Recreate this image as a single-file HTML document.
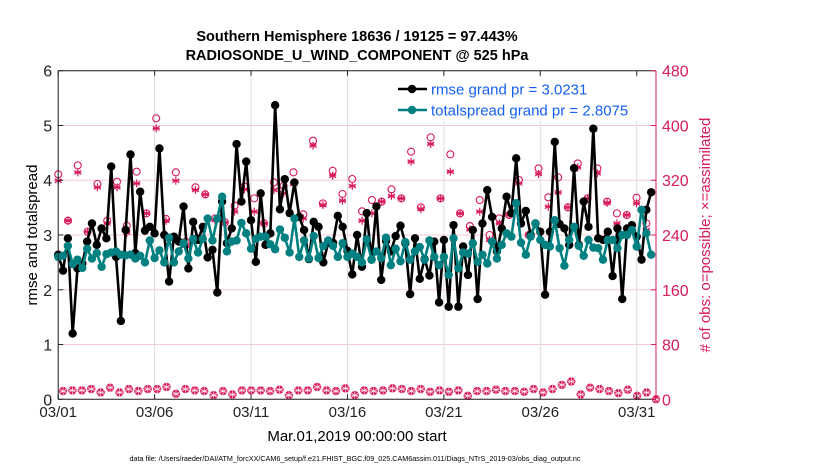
<!DOCTYPE html>
<html><head><meta charset="utf-8"><style>
body{margin:0;background:#fff;width:830px;height:470px;overflow:hidden}
svg{font-family:"Liberation Sans",Arial,sans-serif}
</style></head><body>
<svg id="chart" width="830" height="470" viewBox="0 0 830 470" xmlns="http://www.w3.org/2000/svg">
<g id="grid"></g>
<g id="plot"></g>
<g id="axes"></g>
<text x="357" y="41" text-anchor="middle" font-size="14.5" font-weight="bold">Southern Hemisphere 18636 / 19125 = 97.443%</text>
<text x="357" y="60" text-anchor="middle" font-size="14.5" font-weight="bold">RADIOSONDE_U_WIND_COMPONENT @ 525 hPa</text>
<text transform="translate(37,235) rotate(-90)" text-anchor="middle" font-size="15">rmse and totalspread</text>
<text transform="translate(710,235) rotate(-90)" text-anchor="middle" font-size="15" fill="#d81b5b"># of obs: o=possible; ×=assimilated</text>
<text x="357" y="441" text-anchor="middle" font-size="15">Mar.01,2019 00:00:00 start</text>
<text x="355" y="461" text-anchor="middle" font-size="7.2">data file: /Users/raeder/DAI/ATM_forcXX/CAM6_setup/f.e21.FHIST_BGC.f09_025.CAM6assim.011/Diags_NTrS_2019-03/obs_diag_output.nc</text>
</svg>
<script>
const rmse=[2.64,2.35,2.94,1.2,2.39,2.48,2.88,3.21,2.82,3.12,2.94,4.25,2.6,1.43,3.09,4.47,2.67,3.79,3.08,3.15,3.03,4.58,3.0,2.15,2.97,2.88,3.52,2.39,3.24,2.91,3.15,2.59,2.73,1.95,3.61,2.85,3.12,4.66,3.61,4.34,3.27,2.51,3.76,
2.82,3.03,5.37,3.47,4.02,3.4,3.96,3.33,3.09,2.56,3.24,3.15,2.5,2.86,2.86,3.35,3.15,2.71,2.28,3.0,2.42,3.4,2.55,3.52,2.18,2.89,2.7,2.98,3.17,2.85,1.92,2.94,2.2,2.56,2.26,2.88,1.77,
2.91,1.69,3.18,1.69,2.79,2.27,3.09,1.83,3.21,3.82,3.33,2.7,3.12,3.7,3.4,4.4,3.21,3.44,3.0,3.21,3.06,1.91,3.06,4.7,3.2,3.12,2.82,4.22,2.82,3.61,3.15,4.94,2.94,2.91,3.06,2.25,3.12,1.83,3.12,3.18,2.97,2.55,3.46,3.78];
const spread=[2.6,2.62,2.8,2.47,2.55,2.4,2.75,2.57,2.67,2.42,2.65,2.68,2.7,2.64,2.63,2.64,2.57,2.62,2.5,2.9,2.58,2.72,2.5,2.95,2.5,2.7,2.85,2.57,2.93,2.68,2.93,3.3,2.9,3.3,3.7,2.7,2.88,2.9,3.22,3.03,2.75,2.93,2.97,
2.97,2.83,2.74,3.1,2.95,2.68,3.3,2.6,2.9,2.57,2.98,2.58,2.8,2.9,2.8,2.6,2.85,2.6,2.66,2.6,2.5,2.92,2.55,2.7,2.58,2.95,2.45,2.75,2.52,2.87,2.55,2.7,2.78,2.55,2.9,2.6,2.45,
2.6,2.27,2.94,2.39,2.68,2.66,2.85,2.51,2.64,2.48,2.88,2.57,2.82,3.03,2.97,3.58,2.86,2.64,2.97,3.21,2.91,2.82,2.79,3.27,2.76,2.44,2.91,3.15,2.8,2.62,2.91,2.77,2.76,2.55,2.91,2.91,2.76,3.0,3.0,3.09,2.79,3.46,3.03,2.64];
const highPossible=[328.6,260.9,341.7,244.9,314.5,260.9,317.9,253.6,332.5,271.6,410.4,263.4,331.5,230.3,309.6,299.4,264.3,258.5,282.8,310.6,293.5,257.0,316.9,312.0,331.5,270.2,377.8,286.2,333.9,299.9,321.8,274.6,291.1,288.7,306.7,293.5,361.7,280.4,382.6,293.5,357.8,271.6,253.1,291.1,240.0,264.3,269.2,320.3,240.0,337.3,295.0,324.2,280.4,344.6,293.5,337.3,288.7,271.6,269.2,294.5,257.0];
const highAssim=[319.3,260.9,331.5,244.9,309.6,257.0,309.6,243.4,315.4,271.6,395.8,260.9,319.3,224.4,305.7,299.4,261.9,258.5,274.1,306.7,274.1,257.0,305.7,300.8,314.5,264.3,370.5,283.8,326.6,290.1,311.6,260.9,271.6,288.7,296.9,293.5,347.1,278.0,372.9,293.5,332.5,271.6,248.3,274.1,232.7,257.0,269.2,315.4,240.0,329.1,281.4,302.3,280.4,338.8,293.5,330.1,287.2,257.0,269.2,286.2,247.3];
const lowCount=[12,13,13,15,10,17,10,15,12,15,15,18,8,15,13,12,6,12,7,13,13,13,12,14,6,13,13,18,13,12,16,6,13,12,13,16,15,12,15,11,13,11,13,5,12,12,14,12,12,11,15,10,15,21,26,7,17,15,12,9,14,5,10,0];
const xTickLabels=["03/01","03/06","03/11","03/16","03/21","03/26","03/31"];
const xTickDays=[0,5,10,15,20,25,30];
const yLeftTicks=[0,1,2,3,4,5,6];
const yRightTicks=[0,80,160,240,320,400,480];

const L=58.2,R=656,T=70.7,B=399.3,DAYS=31;
const xs=d=>L+d*(R-L)/DAYS;
const yl=v=>B-v*(B-T)/6;
const yr=v=>B-v*(B-T)/480;
const NS='http://www.w3.org/2000/svg';
function mk(tag,attrs,parent){const e=document.createElementNS(NS,tag);for(const k in attrs)e.setAttribute(k,attrs[k]);parent.appendChild(e);return e;}
const grid=document.getElementById('grid'),plot=document.getElementById('plot'),axes=document.getElementById('axes');
const MAG='#d81b5b';

yLeftTicks.forEach(v=>{const g=mk('line',{x1:L,x2:R,y1:yl(v),y2:yl(v),stroke:'#f5c9d8','stroke-width':1},grid);

});
xTickDays.forEach(d=>{const g=mk('line',{x1:xs(d),x2:xs(d),y1:T,y2:B,stroke:'#dcdcdc','stroke-width':1},grid);

});

function star(cx,cy,r,parent){const g=mk('g',{stroke:MAG,'stroke-width':1.2},parent);
for(let a=0;a<3;a++){const t=Math.PI/2+a*Math.PI/3;mk('line',{x1:cx-r*Math.cos(t),y1:cy-r*Math.sin(t),x2:cx+r*Math.cos(t),y2:cy+r*Math.sin(t)},g);}
mk('line',{x1:cx-r*0.87,y1:cy,x2:cx+r*0.87,y2:cy},g);return g;}

// obs counts
const obsG=mk('g',{},plot);
highPossible.forEach((v,i)=>{const d=i*30.5/(highPossible.length-1);
const c=mk('circle',{cx:xs(d),cy:yr(v),r:3.5,fill:'none',stroke:MAG,'stroke-width':1.1},obsG);

});
highAssim.forEach((v,i)=>{const d=i*30.5/(highAssim.length-1);
const s=star(xs(d),yr(v),4,obsG);

});
lowCount.forEach((v,i)=>{const d=0.25+i*30.75/(lowCount.length-1);
const c=mk('circle',{cx:xs(d),cy:yr(v),r:3.8,fill:MAG,stroke:MAG,'stroke-width':0.8},obsG);


const s=star(xs(d),yr(v),4,obsG);s.setAttribute('stroke','#fff');s.setAttribute('stroke-width','0.6');

});

function series(vals,color,name,r){const g=mk('g',{},plot);
const pts=vals.map((v,i)=>[xs(i*30.75/(vals.length-1)),yl(v)]);
const p=mk('polyline',{points:pts.map(p=>p.join(',')).join(' '),fill:'none',stroke:color,'stroke-width':2.6,'stroke-linejoin':'round'},g);


pts.forEach(q=>{const c=mk('circle',{cx:q[0],cy:q[1],r:r,fill:color},g);

});}
series(rmse,'#000','rmse',4.2);
series(spread,'#008080','totalspread',4.2);

// legend
const lg=mk('g',{},plot);


mk('rect',{x:392,y:77,width:260,height:44,fill:'#fff'},lg);
[[89,'#000','rmse grand pr = 3.0231'],[110,'#008080','totalspread grand pr = 2.8075']].forEach(([y,c,t])=>{
const e=mk('g',{},lg);


mk('line',{x1:398,x2:427,y1:y,y2:y,stroke:c,'stroke-width':2.6},e);
mk('circle',{cx:412,cy:y,r:4.2,fill:c},e);
const tx=mk('text',{x:431,y:y+5.5,'font-size':15,fill:'#1560f0'},e);tx.textContent=t;});

// axes frame
mk('line',{x1:L,x2:R,y1:T,y2:T,stroke:'#222','stroke-width':1},axes);
mk('line',{x1:L,x2:R,y1:B,y2:B,stroke:'#222','stroke-width':1},axes);
mk('line',{x1:L,x2:L,y1:T,y2:B,stroke:'#222','stroke-width':1},axes);
mk('line',{x1:R,x2:R,y1:T,y2:B,stroke:MAG,'stroke-width':1},axes);
yLeftTicks.forEach(v=>{mk('line',{x1:L,x2:L+5,y1:yl(v),y2:yl(v),stroke:'#222'},axes);
const t=mk('text',{x:L-6,y:yl(v)+6,'text-anchor':'end','font-size':16,fill:'#222'},axes);t.textContent=v;

});
yRightTicks.forEach(v=>{mk('line',{x1:R-5,x2:R,y1:yr(v),y2:yr(v),stroke:MAG},axes);
const t=mk('text',{x:R+6,y:yr(v)+6,'font-size':16,fill:MAG},axes);t.textContent=v;

});
xTickDays.forEach((d,i)=>{mk('line',{x1:xs(d),x2:xs(d),y1:B,y2:B-5,stroke:'#222'},axes);
mk('line',{x1:xs(d),x2:xs(d),y1:T,y2:T+5,stroke:'#222'},axes);
const t=mk('text',{x:xs(d),y:417,'text-anchor':'middle','font-size':15,fill:'#222'},axes);t.textContent=xTickLabels[i];

});
</script>
</body></html>
